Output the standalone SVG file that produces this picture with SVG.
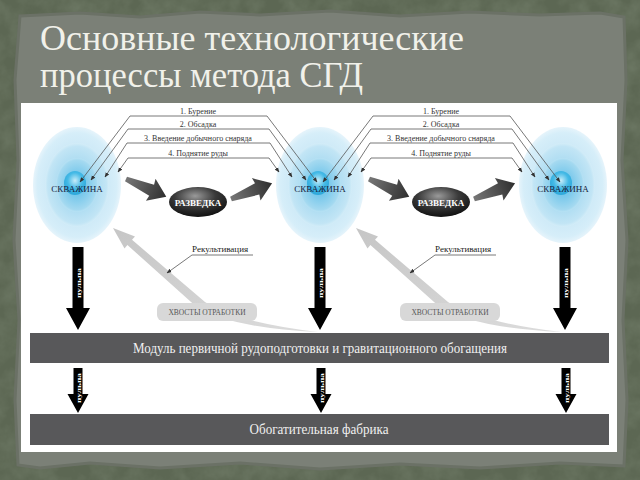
<svg xmlns="http://www.w3.org/2000/svg" xmlns:xlink="http://www.w3.org/1999/xlink" width="640" height="480" viewBox="0 0 640 480">
<defs>
<style>
.title{font-family:"Liberation Serif","DejaVu Serif",serif;font-size:35px;fill:#f1f1ea}
.lbl{font-family:"Liberation Serif",serif;font-size:8px;fill:#333}
.well{font-family:"Liberation Serif",serif;font-size:9px;fill:#16213a;text-anchor:middle}
.raz{font-family:"Liberation Serif",serif;font-size:9px;font-weight:bold;fill:#fff;text-anchor:middle}
.pulp{font-family:"Liberation Serif",serif;font-size:7px;font-weight:bold;fill:#fff;text-anchor:middle}
.rek{font-family:"Liberation Serif",serif;font-size:9px;fill:#222}
.tail{font-family:"Liberation Serif",serif;font-size:7.5px;fill:#555;text-anchor:middle}
.bar{fill:#58585a}
.bartxt{font-family:"Liberation Serif",serif;font-size:14px;fill:#f0f0f0;text-anchor:middle}
.conn{fill:none;stroke:#555;stroke-width:0.8}
</style>
<filter id="tex" x="0" y="0" width="100%" height="100%">
<feTurbulence type="fractalNoise" baseFrequency="0.05" numOctaves="4" seed="7"/>
<feColorMatrix type="matrix" values="0 0 0 0 0.25  0 0 0 0 0.3  0 0 0 0 0.22  0 0 0 -1.6 1.1"/>
</filter>
<marker id="ah" viewBox="0 0 10 10" refX="9" refY="5" markerWidth="5" markerHeight="5" orient="auto-start-reverse" markerUnits="userSpaceOnUse">
<path d="M0,1 L10,5 L0,9 Z" fill="#333"/>
</marker>
<radialGradient id="g1" cx="50%" cy="50%" r="50%">
<stop offset="0.55" stop-color="#c9e7f6"/><stop offset="0.9" stop-color="#d6eef9"/><stop offset="1" stop-color="#e6f4fb"/>
</radialGradient>
<radialGradient id="g2" cx="50%" cy="50%" r="50%">
<stop offset="0.4" stop-color="#a3d8f0"/><stop offset="0.92" stop-color="#c2e5f5"/><stop offset="1" stop-color="#d4edf8"/>
</radialGradient>
<radialGradient id="g3" cx="50%" cy="50%" r="50%">
<stop offset="0.4" stop-color="#78c8eb"/><stop offset="0.92" stop-color="#a4d9f0"/><stop offset="1" stop-color="#b8e2f4"/>
</radialGradient>
<radialGradient id="g4" cx="50%" cy="40%" r="55%">
<stop offset="0" stop-color="#c6ecf9"/><stop offset="0.6" stop-color="#45bae6"/><stop offset="1" stop-color="#2fa9db"/>
</radialGradient>
<radialGradient id="gr" cx="45%" cy="30%" r="70%">
<stop offset="0" stop-color="#9a9a9a"/><stop offset="0.5" stop-color="#3a3a3a"/><stop offset="1" stop-color="#111"/>
</radialGradient>
<linearGradient id="gf" x1="0" y1="0" x2="1" y2="0">
<stop offset="0" stop-color="#777"/><stop offset="1" stop-color="#2e2e2e"/>
</linearGradient>
<linearGradient id="gg" x1="0" y1="0" x2="1" y2="1">
<stop offset="0" stop-color="#c6c6c6"/><stop offset="1" stop-color="#dcdcdc"/>
</linearGradient>
<g id="well">
<ellipse rx="44" ry="58" fill="url(#g1)"/>
<ellipse rx="32" ry="42" fill="url(#g2)"/>
<ellipse rx="21" ry="27" fill="url(#g3)"/>
<ellipse cx="-2" cy="-2" rx="11" ry="12" fill="url(#g4)"/>
<text y="7" class="well">СКВАЖИНА</text>
</g>
<path id="fat" d="M0,-2.5 L28,-6 L27,-12 L44,0 L27,12 L28,6 L0,2.5 Z" fill="url(#gf)"/>
<g id="bigpulp">
<path d="M-5.5,0 H5.5 V61 H12 L0,83 L-12,61 H-5.5 Z" fill="#000"/>
<text class="pulp" transform="translate(2.5,36) rotate(-90)" textLength="30" lengthAdjust="spacingAndGlyphs">пульпа</text>
</g>
<g id="smallpulp">
<path d="M-4.5,0 H4.5 V26 H10.5 L0,45 L-10.5,26 H-4.5 Z" fill="#000"/>
<text class="pulp" transform="translate(2.5,20) rotate(-90)" textLength="30" lengthAdjust="spacingAndGlyphs">пульпа</text>
</g>
</defs>

<rect width="640" height="480" fill="#5c6753"/>
<rect width="640" height="480" filter="url(#tex)" opacity="0.35"/>
<path d="M20,16 L80,13 L140,17 L200,12 L260,15 L330,11 L400,16 L470,12 L540,15 L600,13 L624,17 L626,80 L622,160 L627,240 L623,320 L627,400 L624,466 L560,463 L480,468 L400,464 L320,469 L240,463 L160,468 L90,463 L40,468 L18,465 L15,400 L19,320 L14,240 L18,160 L15,80 Z" fill="#7b8077" stroke="#6b7166" stroke-width="3"/>

<text class="title" x="40" y="50" textLength="424" lengthAdjust="spacingAndGlyphs">Основные технологические</text>
<text class="title" x="40" y="87" textLength="323" lengthAdjust="spacingAndGlyphs">процессы метода СГД</text>

<rect x="21" y="103" width="596" height="349" fill="#fff"/>

<g id="well1"><use xlink:href="#well" x="77" y="185"/></g>
<g id="well2"><use xlink:href="#well" x="320" y="185"/></g>
<g id="well3"><use xlink:href="#well" x="563" y="185"/></g>

<g id="razvedka1">
<ellipse cx="198" cy="202" rx="29" ry="15" fill="url(#gr)"/>
<text x="198" y="205.5" class="raz">РАЗВЕДКА</text>
</g>
<g id="razvedka2">
<ellipse cx="441" cy="202" rx="29" ry="15" fill="url(#gr)"/>
<text x="441" y="205.5" class="raz">РАЗВЕДКА</text>
</g>

<g id="tails1">
<path d="M113,228 L135,236.4 L132,239.8 L205,302 Q235,322 318,332 Q230,328 195.5,306 L127.4,245 L124.5,248.5 Z" fill="url(#gg)"/>
<rect x="157" y="303" width="100" height="18" rx="6" fill="#d8d8d8"/>
<text x="207" y="315" class="tail">ХВОСТЫ ОТРАБОТКИ</text>
</g>
<g id="tails2">
<path d="M356,228 L378,236.4 L375,239.8 L448,302 Q478,322 561,332 Q473,328 438.5,306 L370.4,245 L367.5,248.5 Z" fill="url(#gg)"/>
<rect x="400" y="303" width="100" height="18" rx="6" fill="#d8d8d8"/>
<text x="450" y="315" class="tail">ХВОСТЫ ОТРАБОТКИ</text>
</g>

<g id="rekult1">
<text x="192" y="252" class="rek">Рекультивация</text>
</g>
<g id="rekult2">
<text x="435" y="252" class="rek">Рекультивация</text>
</g>

<g id="module">
<rect x="30" y="333" width="579" height="30" class="bar"/>
<text x="320" y="353" class="bartxt" textLength="374" lengthAdjust="spacingAndGlyphs">Модуль первичной рудоподготовки и гравитационного обогащения</text>
</g>
<g id="factory">
<rect x="30" y="414" width="579" height="31" class="bar"/>
<text x="319" y="434" class="bartxt" textLength="139" lengthAdjust="spacingAndGlyphs">Обогатительная фабрика</text>
</g>

<g id="labels">
<text x="198" y="114" class="lbl" text-anchor="middle">1. Бурение</text>
<text x="198" y="127" class="lbl" text-anchor="middle">2. Обсадка</text>
<text x="198" y="141" class="lbl" text-anchor="middle">3. Введение добычного снаряда</text>
<text x="198" y="155.5" class="lbl" text-anchor="middle">4. Поднятие руды</text>
<text x="441" y="114" class="lbl" text-anchor="middle">1. Бурение</text>
<text x="441" y="127" class="lbl" text-anchor="middle">2. Обсадка</text>
<text x="441" y="141" class="lbl" text-anchor="middle">3. Введение добычного снаряда</text>
<text x="441" y="155.5" class="lbl" text-anchor="middle">4. Поднятие руды</text>
</g>

<g id="connectors">
<path class="conn" marker-start="url(#ah)" marker-end="url(#ah)" d="M80,182 L130,116 L267,116 L317,182"/>
<path class="conn" marker-start="url(#ah)" marker-end="url(#ah)" d="M91,180 L128,129 L269,129 L306,180"/>
<path class="conn" marker-start="url(#ah)" marker-end="url(#ah)" d="M105,177 L127,143 L270,143 L292,177"/>
<path class="conn" marker-start="url(#ah)" marker-end="url(#ah)" d="M118,172 L128,158 L269,158 L279,172"/>
<path class="conn" marker-start="url(#ah)" marker-end="url(#ah)" d="M323,182 L373,116 L510,116 L560,182"/>
<path class="conn" marker-start="url(#ah)" marker-end="url(#ah)" d="M334,180 L371,129 L512,129 L549,180"/>
<path class="conn" marker-start="url(#ah)" marker-end="url(#ah)" d="M348,177 L370,143 L513,143 L535,177"/>
<path class="conn" marker-start="url(#ah)" marker-end="url(#ah)" d="M361,172 L371,158 L512,158 L522,172"/>
<use xlink:href="#fat" transform="translate(126,179) rotate(23.7)"/>
<use xlink:href="#fat" transform="translate(231,199) rotate(-21)"/>
<use xlink:href="#fat" transform="translate(369,179) rotate(23.7)"/>
<use xlink:href="#fat" transform="translate(474,199) rotate(-21)"/>
<path class="conn" stroke="#222" marker-end="url(#ah)" d="M253,255 L192,255 L167,273"/>
<path class="conn" stroke="#222" marker-end="url(#ah)" d="M496,255 L435,255 L410,273"/>
<use xlink:href="#bigpulp" x="78" y="247"/>
<use xlink:href="#bigpulp" x="320" y="247"/>
<use xlink:href="#bigpulp" x="565" y="247"/>
<use xlink:href="#smallpulp" x="78" y="368"/>
<use xlink:href="#smallpulp" x="321" y="368"/>
<use xlink:href="#smallpulp" x="566" y="368"/>
</g>
</svg>
